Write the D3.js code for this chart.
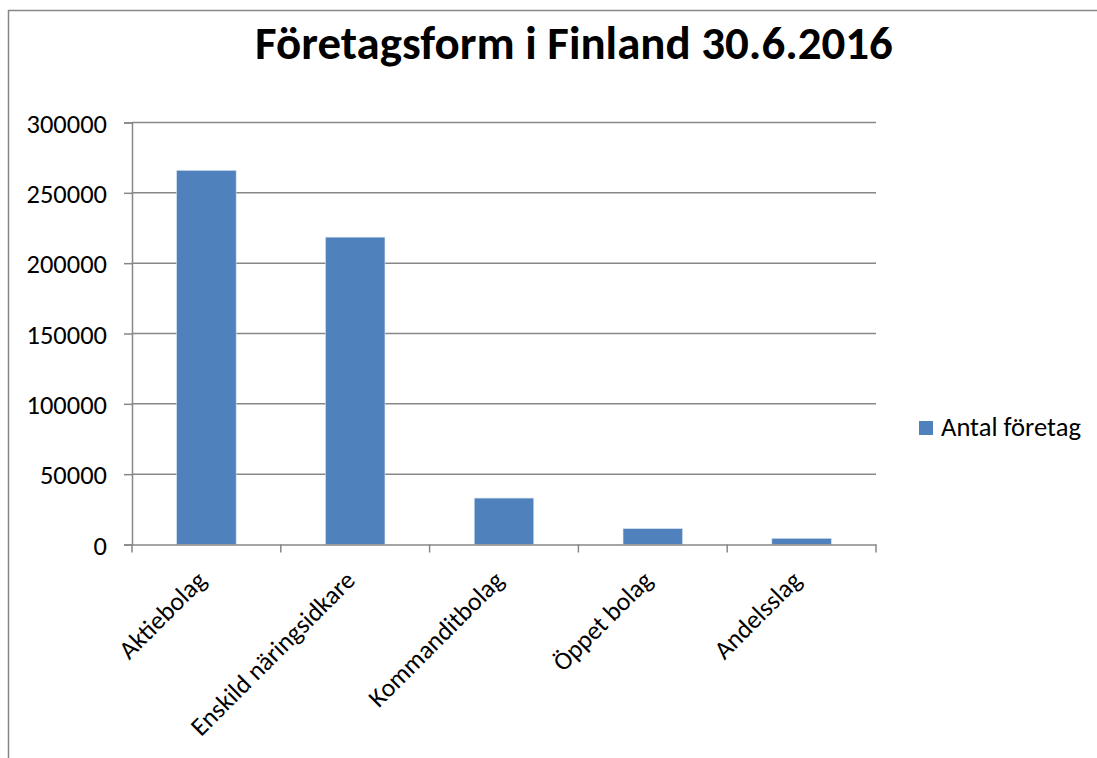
<!DOCTYPE html>
<html><head><meta charset="utf-8">
<script src="https://cdn.jsdelivr.net/npm/d3@7"></script>
<style>body{margin:0;background:#fff}svg{display:block}text{font-family:Carlito,Calibri,Lato,"Open Sans",sans-serif}</style>
</head><body>
<script>
const categories = ["Aktiebolag","Enskild näringsidkare","Kommanditbolag","Öppet bolag","Andelsslag"];
const values = [266000, 218500, 33000, 11300, 4400];
const yTicks = [0, 50000, 100000, 150000, 200000, 250000, 300000];
const title = "Företagsform i Finland 30.6.2016";
const seriesName = "Antal företag";

const W = 1097, H = 758;
const svg = d3.select("body").append("svg").attr("width", W).attr("height", H);
const grey = "#878787";

function fit(sel, base, target) {
  const w = sel.node().getComputedTextLength();
  return base * target / w;
}

// outer chart border (extends past viewport on right/bottom)
svg.append("path").attr("d", "M8.5,770 V10.5 H1110").attr("fill","none").attr("stroke",grey).attr("stroke-width",1.5);

const x = d3.scaleBand().domain(categories).range([132, 876]).paddingInner(0.6).paddingOuter(0.3);
const y = d3.scaleLinear().domain([0, 300000]).range([544.5, 122.5]);

// gridlines
svg.append("g").selectAll("line").data(yTicks.slice(1)).join("line")
  .attr("x1", 132).attr("x2", 876).attr("y1", d => y(d)).attr("y2", d => y(d))
  .attr("stroke", grey).attr("stroke-width", 1.5);

// bars
svg.append("g").selectAll("rect").data(values).join("rect")
  .attr("x", (d,i) => x(categories[i])).attr("width", x.bandwidth())
  .attr("y", d => y(d)).attr("height", d => y(0) - y(d))
  .attr("fill", "#4F81BD").attr("stroke", "#dbe3f0").attr("stroke-width", 0.6);

// y axis
const ya = svg.append("g").attr("transform", "translate(132,0)")
  .call(d3.axisLeft(y).tickValues(yTicks).tickFormat(d3.format("d")).tickSize(8).tickPadding(17));
ya.select(".domain").attr("stroke", grey).attr("stroke-width", 1.5);
ya.selectAll(".tick line").attr("stroke", grey).attr("stroke-width", 1.5);
const yLab = ya.selectAll("text").attr("font-size", 23).attr("fill", "#000").attr("font-family", null).attr("dy","0.36em");
const yfs = fit(yLab.filter(d => d === 300000), 23, 80.5);
yLab.attr("font-size", yfs);

// x axis
const xa = svg.append("g").attr("transform", `translate(0,${y(0)})`)
  .call(d3.axisBottom(x).tickSize(0).tickFormat(""));
xa.select(".domain").attr("stroke", grey).attr("stroke-width", 1.5);
// category boundary tick marks
const bounds = d3.range(categories.length + 1).map(i => 132 + i * x.step());
svg.append("g").selectAll("line").data(bounds).join("line")
  .attr("x1", d => d).attr("x2", d => d).attr("y1", y(0)).attr("y2", y(0) + 8)
  .attr("stroke", grey).attr("stroke-width", 1.5);

// x labels rotated
const xl = svg.append("g").selectAll("text").data(categories).join("text")
  .attr("transform", d => `translate(${x(d) + x.bandwidth()/2 - 5},${y(0) + 31}) rotate(-45)`)
  .attr("text-anchor", "end").attr("dy", "0.35em").attr("font-size", 22).attr("fill", "#000")
  .text(d => d);
xl.attr("font-size", fit(xl.filter(d => d === "Enskild näringsidkare"), 22, 220));

// title
const t = svg.append("text").attr("x", 574).attr("y", 59).attr("text-anchor", "middle")
  .attr("font-weight", "bold").attr("font-size", 40).attr("fill", "#000").text(title);
t.attr("font-size", fit(t, 40, 638));

// legend
svg.append("rect").attr("x", 919).attr("y", 421).attr("width", 14).attr("height", 14).attr("fill", "#4F81BD");
const lt = svg.append("text").attr("x", 941).attr("y", 436).attr("font-size", 22).attr("fill", "#000").text(seriesName);
lt.attr("font-size", fit(lt, 22, 140));
</script>
</body></html>
